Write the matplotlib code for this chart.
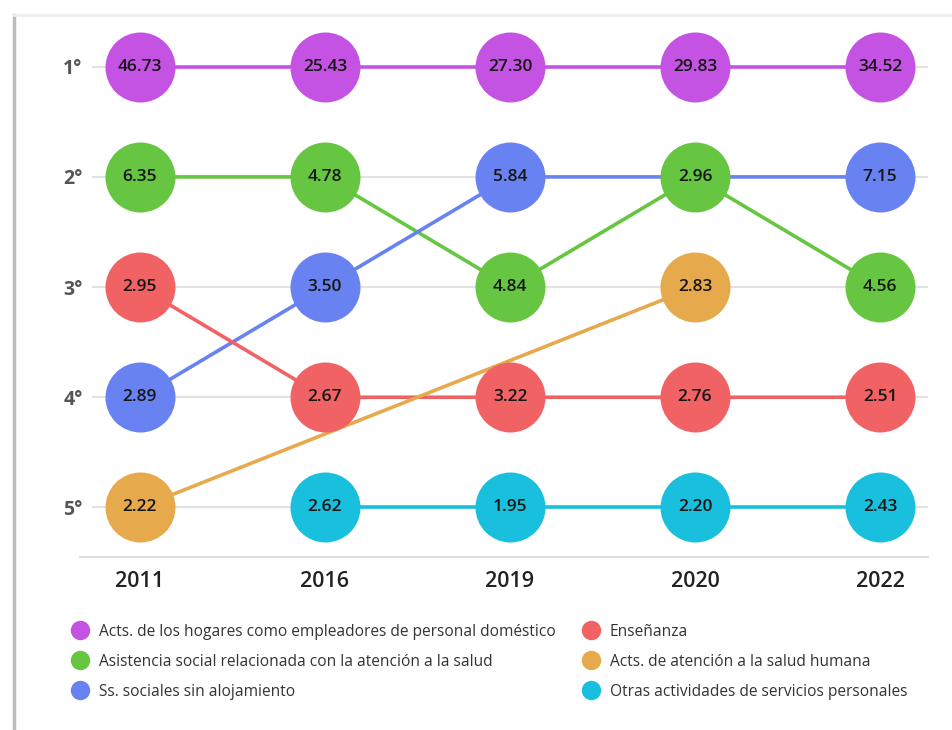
import numpy as np
import matplotlib.pyplot as plt
from matplotlib.lines import Line2D

plt.rcParams['font.family'] = ['Open Sans', 'DejaVu Sans']

years = ['2011', '2016', '2019', '2020', '2022']
rank_labels = ['1°', '2°', '3°', '4°', '5°']

names = ['Acts. de los hogares como empleadores de personal doméstico',
         'Asistencia social relacionada con la atención a la salud',
         'Ss. sociales sin alojamiento',
         'Enseñanza',
         'Acts. de atención a la salud humana',
         'Otras actividades de servicios personales']
colors = ['#c452e2', '#66c642', '#6882f2', '#f06264', '#e6a94c', '#19c0de']

# rank per year (nan = not in top 5)
nan = np.nan
hogares_rank = [1, 1, 1, 1, 1]
asist_rank = [2, 2, 3, 2, 3]
sociales_rank = [4, 3, 2, nan, 2]
ensen_rank = [3, 4, 4, 4, 4]
salud_rank = [5, nan, nan, 3, nan]
otras_rank = [nan, 5, 5, 5, 5]

hogares_val = [46.73, 25.43, 27.30, 29.83, 34.52]
asist_val = [6.35, 4.78, 4.84, 2.96, 4.56]
sociales_val = [2.89, 3.50, 5.84, nan, 7.15]
ensen_val = [2.95, 2.67, 3.22, 2.76, 2.51]
salud_val = [2.22, nan, nan, 2.83, nan]
otras_val = [nan, 2.62, 1.95, 2.20, 2.43]

ranks = [hogares_rank, asist_rank, sociales_rank, ensen_rank, salud_rank, otras_rank]
vals = [hogares_val, asist_val, sociales_val, ensen_val, salud_val, otras_val]

fig = plt.figure(figsize=(9.52, 7.3), dpi=100)
ax = fig.add_axes([0.084, 0.237, 0.891, 0.736])

x = np.arange(len(years))
for r in range(1, 6):
    ax.axhline(r, xmin=0.015, xmax=1, color='#e2e2e2', lw=1.5, zorder=0)

# lines first
for rk, c in zip(ranks, colors):
    rk = np.array(rk, dtype=float)
    m = ~np.isnan(rk)
    ax.plot(x[m], rk[m], color=c, lw=2.6, zorder=1, solid_capstyle='butt')

# circles + labels
for rk, vl, c in zip(ranks, vals, colors):
    rk = np.array(rk, dtype=float)
    vl = np.array(vl, dtype=float)
    m = ~np.isnan(rk)
    ax.scatter(x[m], rk[m], s=2540, color=c, zorder=3, linewidths=0)
    for xi, yi, v in zip(x[m], rk[m], vl[m]):
        ax.text(xi, yi, f'{v:.2f}', ha='center', va='center', fontsize=12.5,
                fontweight='semibold', color='#161616', zorder=4)

ax.set_xlim(-0.324, 4.26)
ax.set_ylim(5.45, 0.573)
ax.set_xticks(x)
ax.set_xticklabels(years, fontsize=15.5, fontweight='semibold', color='#222222')
ax.set_yticks(range(1, 6))
ax.set_yticklabels(rank_labels, fontsize=14, fontweight='bold', color='#555555')
ax.tick_params(length=0)
ax.tick_params(axis='x', pad=10)
ax.tick_params(axis='y', pad=-2)
for s in ['top', 'right', 'left']:
    ax.spines[s].set_visible(False)
ax.spines['bottom'].set_color('#dddddd')
ax.spines['bottom'].set_linewidth(1.5)

handles = [Line2D([], [], marker='o', ls='', markersize=14, color=c, markeredgewidth=0)
           for c in colors]
fig.legend(handles, names, loc='upper left', bbox_to_anchor=(0.053, 0.165), ncol=2,
           frameon=False, fontsize=11.2, handletextpad=0.2, columnspacing=1.3,
           labelspacing=0.9, labelcolor='#333333')

# frame of the screenshot
fig.add_artist(Line2D([14 / 952, 14 / 952], [0, 1 - 15 / 730], transform=fig.transFigure,
                      color='#bdbdbd', lw=2.5))
fig.add_artist(Line2D([14 / 952, 1], [1 - 15 / 730, 1 - 15 / 730], transform=fig.transFigure,
                      color='#eeeeee', lw=2))

fig.savefig('out.png', dpi=100)
